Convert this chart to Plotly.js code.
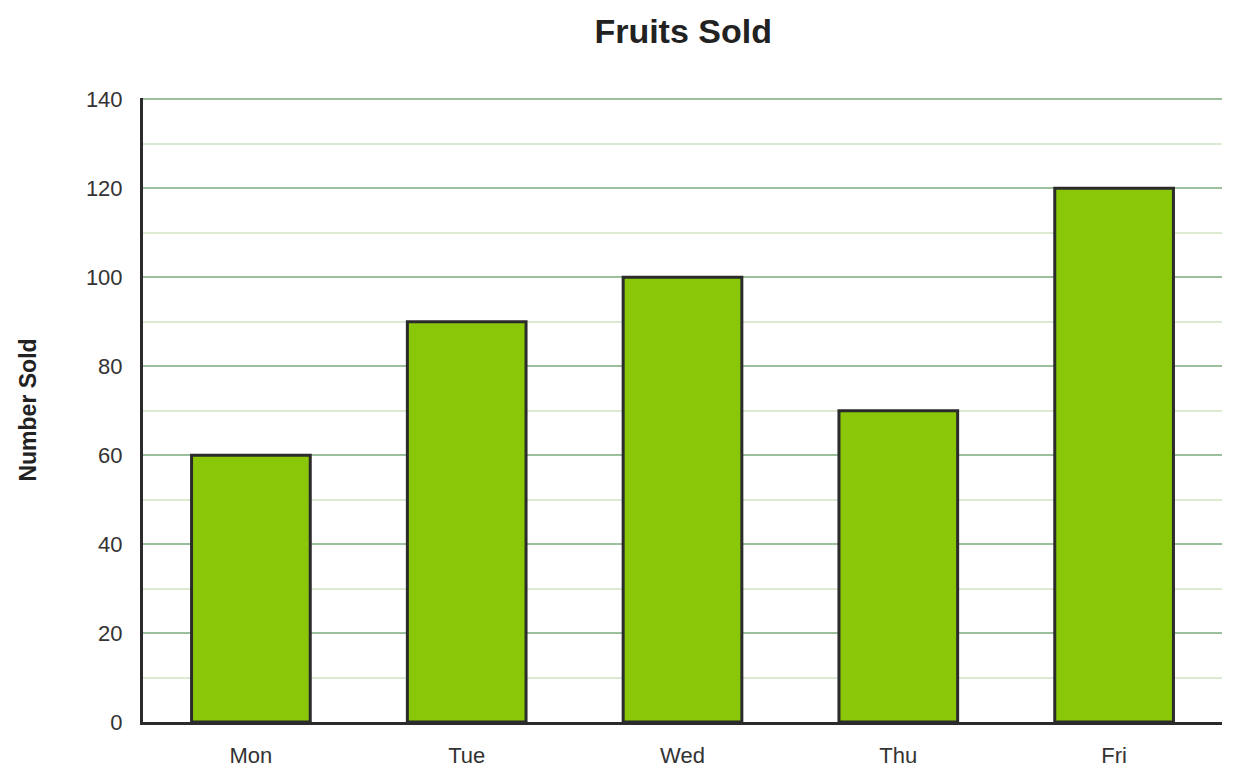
<!DOCTYPE html>
<html>
<head>
<meta charset="utf-8">
<script src="https://cdn.plot.ly/plotly-3.0.1.min.js"></script>
<style>
  html, body { margin: 0; padding: 0; background: #fff; }
  #chart { width: 1241px; height: 781px; }
</style>
</head>
<body>
<div id="chart"></div>
<script>
var days = ['Mon', 'Tue', 'Wed', 'Thu', 'Fri']
var sold = [60, 90, 100, 70, 120]

var trace = {
    x: days,
    y: sold,
    type: 'bar',
    width: 0.55,
    marker: {
        color: '#8ac709',
        line: { color: '#2b2b2b', width: 3 }
    },
    hoverinfo: 'x+y'
}

var layout = {
    width: 1241,
    height: 781,
    margin: { l: 143, r: 19, t: 98, b: 59 },
    paper_bgcolor: '#ffffff',
    plot_bgcolor: '#ffffff',
    font: { family: 'Liberation Sans, Arial, sans-serif', size: 22, color: '#333333' },
    title: {
        text: '<b>Fruits Sold</b>',
        font: { size: 34, color: '#222222' },
        x: 0.5505, xanchor: 'center',
        y: 0.96, yanchor: 'middle'
    },
    showlegend: false,
    xaxis: {
        showline: true,
        linecolor: '#2b2b2b',
        linewidth: 3,
        showgrid: false,
        ticks: '',
        ticklabelstandoff: 12,
        tickfont: { size: 22, color: '#333333' }
    },
    yaxis: {
        range: [0, 140.3],
        tickvals: [0, 20, 40, 60, 80, 100, 120, 140],
        showline: true,
        linecolor: '#2b2b2b',
        linewidth: 3,
        gridcolor: '#9cc09c',
        gridwidth: 2,
        zeroline: false,
        ticks: '',
        ticklabelstandoff: 13,
        tickfont: { size: 22, color: '#333333' },
        minor: { dtick: 10, showgrid: true, gridcolor: '#dcead2', gridwidth: 2 },
        title: {
            text: '<b>Number Sold</b>',
            font: { size: 23, color: '#222222' },
            standoff: 43
        }
    }
}

Plotly.newPlot('chart', [trace], layout, { displayModeBar: false })
</script>
</body>
</html>
